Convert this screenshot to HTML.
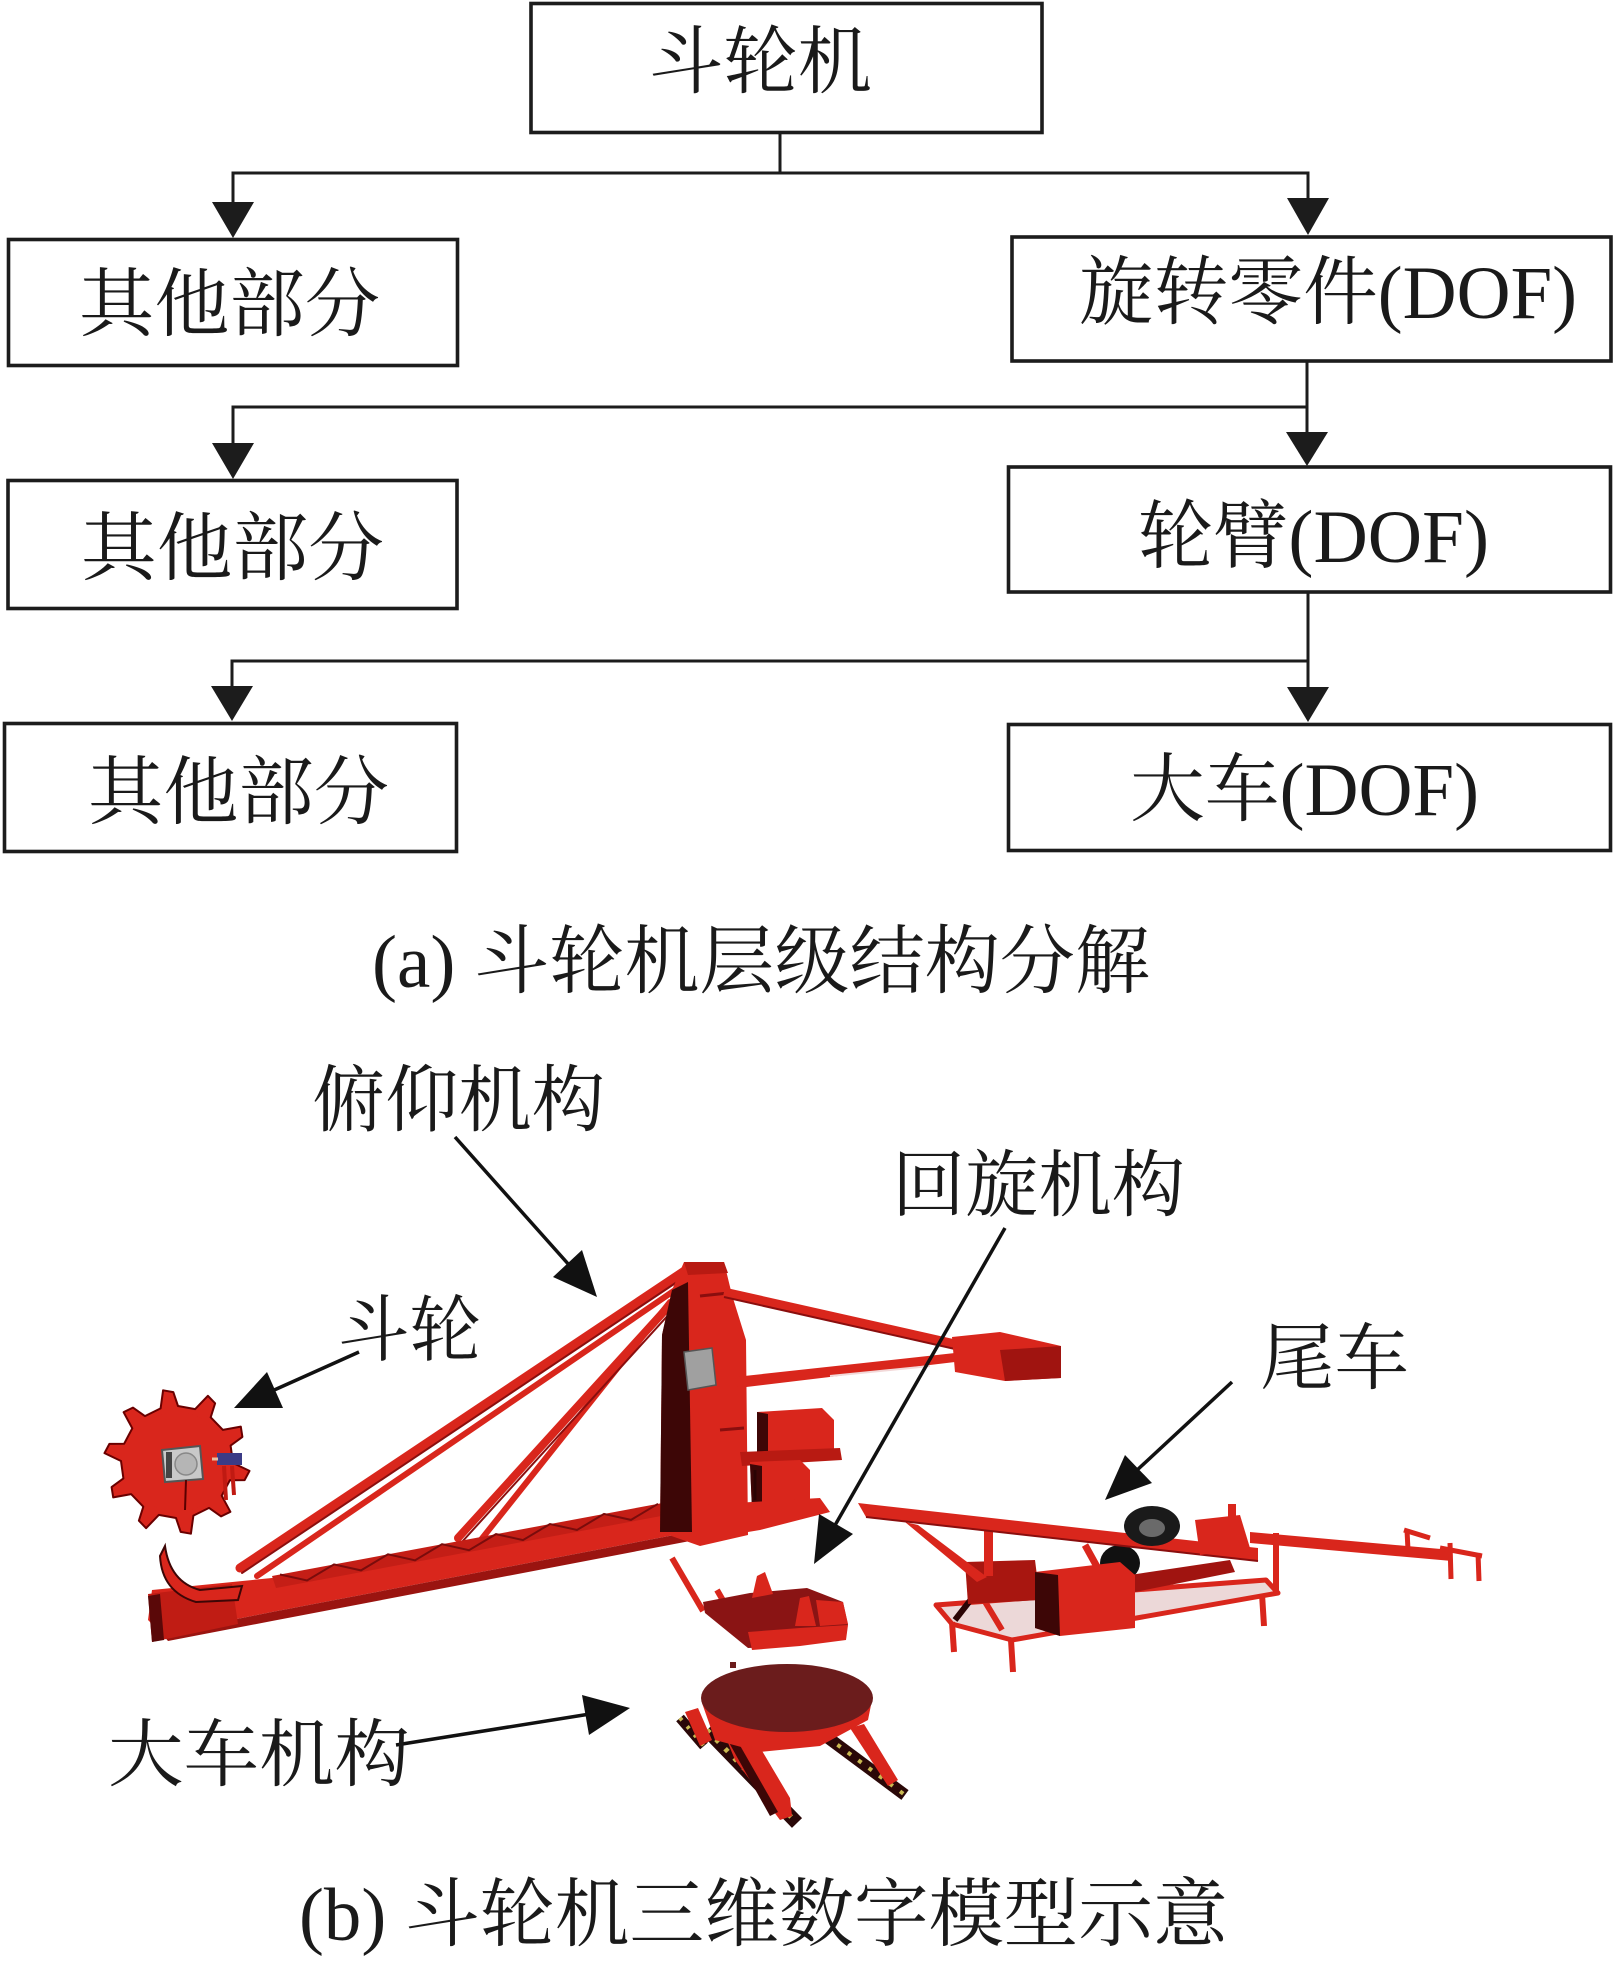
<!DOCTYPE html>
<html>
<head>
<meta charset="utf-8">
<style>
  html, body { margin:0; padding:0; background:#fff; }
  body { width:1614px; height:1962px; overflow:hidden; }
  svg { display:block; }
  .t { font-family: "Liberation Serif", "Noto Serif CJK SC", serif; fill:#1a1a1a; }
</style>
</head>
<body>
<svg width="1614" height="1962" viewBox="0 0 1614 1962" xmlns="http://www.w3.org/2000/svg">
  <rect width="1614" height="1962" fill="#fff"/>

  <!-- ===== (a) hierarchy ===== -->
  <g fill="none" stroke="#1c1c1c" stroke-width="3.6">
    <rect x="531" y="3.5" width="511" height="129"/>
    <rect x="8.5" y="239.5" width="449" height="126"/>
    <rect x="8" y="480.5" width="449" height="128"/>
    <rect x="4.5" y="723.5" width="452" height="128"/>
    <rect x="1012" y="237" width="599" height="124"/>
    <rect x="1008.5" y="467" width="602" height="125"/>
    <rect x="1008.5" y="724.5" width="602" height="126"/>
  </g>
  <g fill="none" stroke="#1c1c1c" stroke-width="3">
    <polyline points="780,133 780,173"/>
    <polyline points="233,204 233,173 1308,173 1308,200"/>
    <polyline points="1307,361 1307,434"/>
    <polyline points="233,445 233,407 1307,407"/>
    <polyline points="1308,592 1308,689"/>
    <polyline points="232,689 232,661 1308,661"/>
  </g>
  <g fill="#1c1c1c">
    <polygon points="212,202 254,202 233,238"/>
    <polygon points="1287,198 1329,198 1308,235"/>
    <polygon points="1286,432 1328,432 1307,466"/>
    <polygon points="212,443 254,443 233,479"/>
    <polygon points="1287,687 1329,687 1308,722"/>
    <polygon points="211,686 253,686 232,721"/>
  </g>

  <text class="t" x="649" y="87" font-size="74" textLength="223" lengthAdjust="spacingAndGlyphs">斗轮机</text>
  <text class="t" x="79" y="330" font-size="75" textLength="301" lengthAdjust="spacingAndGlyphs">其他部分</text>
  <text class="t" x="81" y="574" font-size="75" textLength="303" lengthAdjust="spacingAndGlyphs">其他部分</text>
  <text class="t" x="88" y="818" font-size="75" textLength="301" lengthAdjust="spacingAndGlyphs">其他部分</text>
  <text class="t" x="1079" y="318" font-size="75" textLength="498" lengthAdjust="spacingAndGlyphs">旋转零件(DOF)</text>
  <text class="t" x="1138" y="562" font-size="75" textLength="351" lengthAdjust="spacingAndGlyphs">轮臂(DOF)</text>
  <text class="t" x="1130" y="815" font-size="75" textLength="349" lengthAdjust="spacingAndGlyphs">大车(DOF)</text>

  <text class="t" x="372" y="987" font-size="75" textLength="778" lengthAdjust="spacingAndGlyphs">(a) 斗轮机层级结构分解</text>

  <!-- ===== (b) machine model ===== -->
  <!-- bucket wheel -->
  <g>
    <polygon fill="#d9261c" stroke="#6a0000" stroke-width="2" stroke-linejoin="round" points="
      233.0,1463.0 249.5,1470.9 244.6,1480.1 229.9,1480.2
      221.7,1495.7 230.4,1511.8 221.1,1516.4 209.1,1507.9
      193.4,1515.6 190.9,1533.7 180.7,1531.9 176.0,1518.0
      158.8,1514.9 146.1,1528.2 138.9,1520.7 143.3,1506.7
      131.1,1494.1 113.2,1497.4 111.6,1487.1 123.4,1478.4
      121.0,1461.0 104.5,1453.1 109.4,1443.9 124.1,1443.8
      132.3,1428.3 123.6,1412.2 132.9,1407.6 144.9,1416.1
      160.6,1408.4 163.1,1390.3 173.3,1392.1 178.0,1406.0
      195.2,1409.1 207.9,1395.8 215.1,1403.3 210.7,1417.3
      222.9,1429.9 240.8,1426.6 242.4,1436.9 230.6,1445.6"/>
    <circle cx="177" cy="1462" r="50" fill="#d9261c"/>
    <polygon points="162,1450 200,1446 203,1479 165,1482" fill="#c9c9c9" stroke="#555" stroke-width="2"/>
    <rect x="166" y="1452" width="6" height="26" fill="#444"/>
    <circle cx="186" cy="1464" r="11" fill="#b5b5b5" stroke="#888" stroke-width="1.5"/>
    <rect x="217" y="1453" width="25" height="12" fill="#3b3b86"/>
    <line x1="212" y1="1459" x2="218" y2="1459" stroke="#e8c0a0" stroke-width="3"/>
    <line x1="224" y1="1466" x2="226" y2="1500" stroke="#c01a12" stroke-width="4"/>
    <line x1="232" y1="1466" x2="234" y2="1495" stroke="#c01a12" stroke-width="4"/>
    <line x1="186" y1="1480" x2="185" y2="1510" stroke="#5a0000" stroke-width="2"/>
  </g>

  <!-- stays (pull rods) -->
  <g stroke-linecap="round">
    <line x1="686" y1="1270" x2="240" y2="1568" stroke="#d9261c" stroke-width="9"/>
    <line x1="686" y1="1276" x2="242" y2="1573" stroke="#8a0e0e" stroke-width="2"/>
    <line x1="678" y1="1288" x2="257" y2="1576" stroke="#d9261c" stroke-width="6"/>
    <line x1="678" y1="1296" x2="458" y2="1538" stroke="#d9261c" stroke-width="8"/>
    <line x1="670" y1="1302" x2="476" y2="1546" stroke="#d9261c" stroke-width="6"/>
    <line x1="681" y1="1301" x2="461" y2="1543" stroke="#8a0e0e" stroke-width="2"/>
  </g>

  <!-- boom -->
  <polygon points="152,1590 272,1578 684,1506 690,1532 272,1612 162,1634 148,1620" fill="#d9261c"/>
  <polygon points="162,1634 272,1612 690,1532 690,1541 272,1621 168,1641" fill="#9a1410"/>
  <polygon points="272,1576 668,1502 672,1514 276,1588" fill="#c41e16"/>
  <polyline fill="none" stroke="#7a0c0c" stroke-width="2" points="280,1574.5 307,1580.5 334,1564.4 361,1570.4 388,1554.3 415,1560.3 442,1544.2 469,1550.2 496,1534.1 523,1540.1 550,1524 577,1530 604,1513.9 631,1519.9 658,1503.8"/>
  <polygon points="148,1594 232,1584 238,1624 152,1642" fill="#c01c14"/>
  <polygon points="148,1596 160,1594 164,1640 152,1642" fill="#5a0808"/>
  <path d="M165,1546 Q170,1582 200,1590 L242,1586 L238,1600 L196,1602 Q162,1592 160,1556 Z" fill="#d9261c" stroke="#3d0606" stroke-width="2"/>

  <!-- tower -->
  <polygon points="684,1262 724,1262 732,1295 746,1340 748,1535 700,1546 660,1532 662,1335 672,1290" fill="#d9261c"/>
  <polygon points="672,1290 688,1282 692,1532 660,1532 662,1335" fill="#3d0606"/>
  <polygon points="684,1262 724,1262 728,1273 688,1275" fill="#b81a12"/>
  <line x1="700" y1="1296" x2="738" y2="1292" stroke="#8a0e0e" stroke-width="3"/>
  <line x1="720" y1="1430" x2="744" y2="1428" stroke="#8a0e0e" stroke-width="3"/>
  <polygon points="684,1352 712,1348 716,1385 688,1390" fill="#a0a0a0" stroke="#555" stroke-width="1.5"/>

  <!-- counterweight arm -->
  <line x1="724" y1="1292" x2="955" y2="1344" stroke="#d9261c" stroke-width="9"/>
  <line x1="724" y1="1297" x2="955" y2="1349" stroke="#8a0e0e" stroke-width="2"/>
  <polygon points="735,1377 955,1353 955,1362 738,1388" fill="#d9261c"/>
  <line x1="830" y1="1376" x2="930" y2="1366" stroke="#f2d8d8" stroke-width="2"/>
  <polygon points="952,1337 1000,1332 1061,1346 1061,1378 1005,1381 955,1372" fill="#d9261c"/>
  <polygon points="1000,1350 1061,1346 1061,1378 1005,1381" fill="#a01410"/>

  <!-- boxes on tower -->
  <polygon points="757,1412 822,1408 834,1420 834,1452 765,1455 757,1440" fill="#d9261c"/>
  <polygon points="757,1412 768,1414 768,1455 757,1452" fill="#3d0606"/>
  <polygon points="740,1452 840,1448 842,1460 742,1466" fill="#b81a12"/>
  <polygon points="750,1462 800,1460 810,1470 810,1505 752,1510" fill="#d9261c"/>
  <polygon points="750,1464 762,1466 762,1510 752,1510" fill="#3d0606"/>
  <polygon points="700,1505 820,1498 830,1512 760,1530 700,1540" fill="#d9261c"/>
  <line x1="755" y1="1470" x2="755" y2="1500" stroke="#2a0404" stroke-width="3"/>

  <!-- slewing mechanism -->
  <line x1="672" y1="1558" x2="703" y2="1611" stroke="#d9261c" stroke-width="6"/>
  <line x1="717" y1="1590" x2="748" y2="1644" stroke="#d9261c" stroke-width="6"/>
  <polygon points="703,1602 750,1593 807,1588 843,1602 848,1625 813,1640 777,1647 748,1648 705,1613" fill="#8a1414"/>
  <polygon points="752,1598 757,1576 765,1572 773,1594" fill="#d9261c"/>
  <polygon points="795,1626 800,1598 809,1596 816,1626" fill="#d9261c"/>
  <polygon points="748,1632 800,1628 848,1625 846,1640 800,1646 752,1650" fill="#d9261c"/>
  <polygon points="816,1600 843,1602 848,1624 820,1626" fill="#d9261c"/>

  <!-- travel mechanism -->
  <line x1="707" y1="1730" x2="797" y2="1823" stroke="#2a0808" stroke-width="14"/>
  <line x1="707" y1="1730" x2="797" y2="1823" stroke="#c8b850" stroke-width="5" stroke-dasharray="4 9"/>
  <line x1="680" y1="1718" x2="704" y2="1746" stroke="#2a0808" stroke-width="10"/>
  <line x1="680" y1="1718" x2="704" y2="1746" stroke="#c8b850" stroke-width="4" stroke-dasharray="3 8"/>
  <line x1="827" y1="1737" x2="905" y2="1795" stroke="#2a0808" stroke-width="12"/>
  <line x1="827" y1="1737" x2="905" y2="1795" stroke="#c8b850" stroke-width="4" stroke-dasharray="4 9"/>
  <polygon points="685,1712 698,1708 712,1740 700,1746" fill="#d9261c"/>
  <polygon points="722,1728 745,1722 790,1798 792,1816 780,1820 735,1760" fill="#d9261c"/>
  <polygon points="722,1730 730,1728 778,1812 770,1816" fill="#3d0606"/>
  <polygon points="850,1728 864,1724 898,1780 888,1786" fill="#d9261c"/>
  <polygon points="702,1703 872,1700 868,1720 820,1746 760,1752 715,1740" fill="#d9261c"/>
  <ellipse cx="787" cy="1698" rx="86" ry="34" fill="#6b1c1c"/>
  <rect x="730" y="1662" width="6" height="6" fill="#6b1c1c"/>

  <!-- tail car -->
  <polygon points="936,1605 1266,1580 1278,1593 1012,1640 952,1624" fill="#ecd8d8" stroke="#d9261c" stroke-width="5" stroke-linejoin="round"/>
  <line x1="952" y1="1622" x2="954" y2="1652" stroke="#d9261c" stroke-width="6"/>
  <line x1="1011" y1="1640" x2="1013" y2="1672" stroke="#d9261c" stroke-width="6"/>
  <line x1="1262" y1="1594" x2="1264" y2="1626" stroke="#d9261c" stroke-width="6"/>
  <line x1="1276" y1="1533" x2="1276" y2="1594" stroke="#d9261c" stroke-width="6"/>
  <line x1="955" y1="1620" x2="990" y2="1575" stroke="#2a0404" stroke-width="6"/>
  <line x1="1002" y1="1630" x2="972" y2="1580" stroke="#d9261c" stroke-width="6"/>
  <polygon points="965,1562 1035,1560 1040,1600 968,1604" fill="#a81610"/>
  <polygon points="905,1522 918,1525 987,1577 977,1582" fill="#d9261c"/>
  <polygon points="984,1528 993,1528 993,1576 984,1576" fill="#d9261c"/>
  <line x1="1085" y1="1545" x2="1122" y2="1612" stroke="#d9261c" stroke-width="7"/>
  <line x1="1132" y1="1550" x2="1100" y2="1616" stroke="#d9261c" stroke-width="7"/>
  <ellipse cx="1120" cy="1563" rx="20" ry="18" fill="#111"/>
  <polygon points="1130,1575 1230,1560 1235,1572 1135,1592" fill="#a01410"/>
  <polygon points="1035,1572 1120,1562 1135,1575 1135,1628 1060,1636 1035,1628" fill="#d9261c"/>
  <polygon points="1035,1572 1058,1575 1060,1636 1035,1628" fill="#3d0606"/>
  <polygon points="858,1503 1258,1548 1258,1561 866,1517" fill="#d9261c"/>
  <line x1="866" y1="1517" x2="1258" y2="1561" stroke="#8a0e0e" stroke-width="2"/>
  <ellipse cx="1152" cy="1526" rx="28" ry="20" fill="#1a1a1a"/>
  <ellipse cx="1152" cy="1528" rx="13" ry="9" fill="#6a6a6a"/>
  <polygon points="1195,1520 1240,1515 1250,1548 1200,1555" fill="#d9261c"/>
  <rect x="1228" y="1504" width="8" height="42" fill="#d9261c"/>
  <polygon points="1250,1532 1452,1550 1452,1561 1250,1543" fill="#d9261c"/>
  <line x1="1404" y1="1530" x2="1430" y2="1538" stroke="#d9261c" stroke-width="5"/>
  <line x1="1407" y1="1530" x2="1408" y2="1550" stroke="#d9261c" stroke-width="5"/>
  <line x1="1450" y1="1543" x2="1451" y2="1579" stroke="#d9261c" stroke-width="5"/>
  <line x1="1478" y1="1553" x2="1479" y2="1581" stroke="#d9261c" stroke-width="5"/>
  <line x1="1440" y1="1548" x2="1482" y2="1556" stroke="#d9261c" stroke-width="5"/>

  <!-- label arrows -->
  <g stroke="#111" stroke-width="3.5" fill="none">
    <line x1="455" y1="1137" x2="570" y2="1266"/>
    <line x1="1005" y1="1228" x2="834" y2="1527"/>
    <line x1="359" y1="1352" x2="272" y2="1391"/>
    <line x1="1232" y1="1382" x2="1135" y2="1472"/>
    <line x1="396" y1="1745" x2="590" y2="1714"/>
  </g>
  <g fill="#111">
    <polygon points="553,1277 582,1250 597,1297"/>
    <polygon points="853,1534 819,1514 814,1564"/>
    <polygon points="283,1408 267,1372 234,1408"/>
    <polygon points="1152,1483 1125,1455 1105,1500"/>
    <polygon points="589,1735 582,1695 630,1708"/>
  </g>

  <text class="t" x="312" y="1125" font-size="73" textLength="293" lengthAdjust="spacingAndGlyphs">俯仰机构</text>
  <text class="t" x="892" y="1210" font-size="73" textLength="293" lengthAdjust="spacingAndGlyphs">回旋机构</text>
  <text class="t" x="338" y="1355" font-size="72" textLength="143" lengthAdjust="spacingAndGlyphs">斗轮</text>
  <text class="t" x="1260" y="1383" font-size="73" textLength="149" lengthAdjust="spacingAndGlyphs">尾车</text>
  <text class="t" x="108" y="1780" font-size="74" textLength="302" lengthAdjust="spacingAndGlyphs">大车机构</text>

  <text class="t" x="299" y="1940" font-size="75" textLength="929" lengthAdjust="spacingAndGlyphs">(b) 斗轮机三维数字模型示意</text>
</svg>
</body>
</html>
